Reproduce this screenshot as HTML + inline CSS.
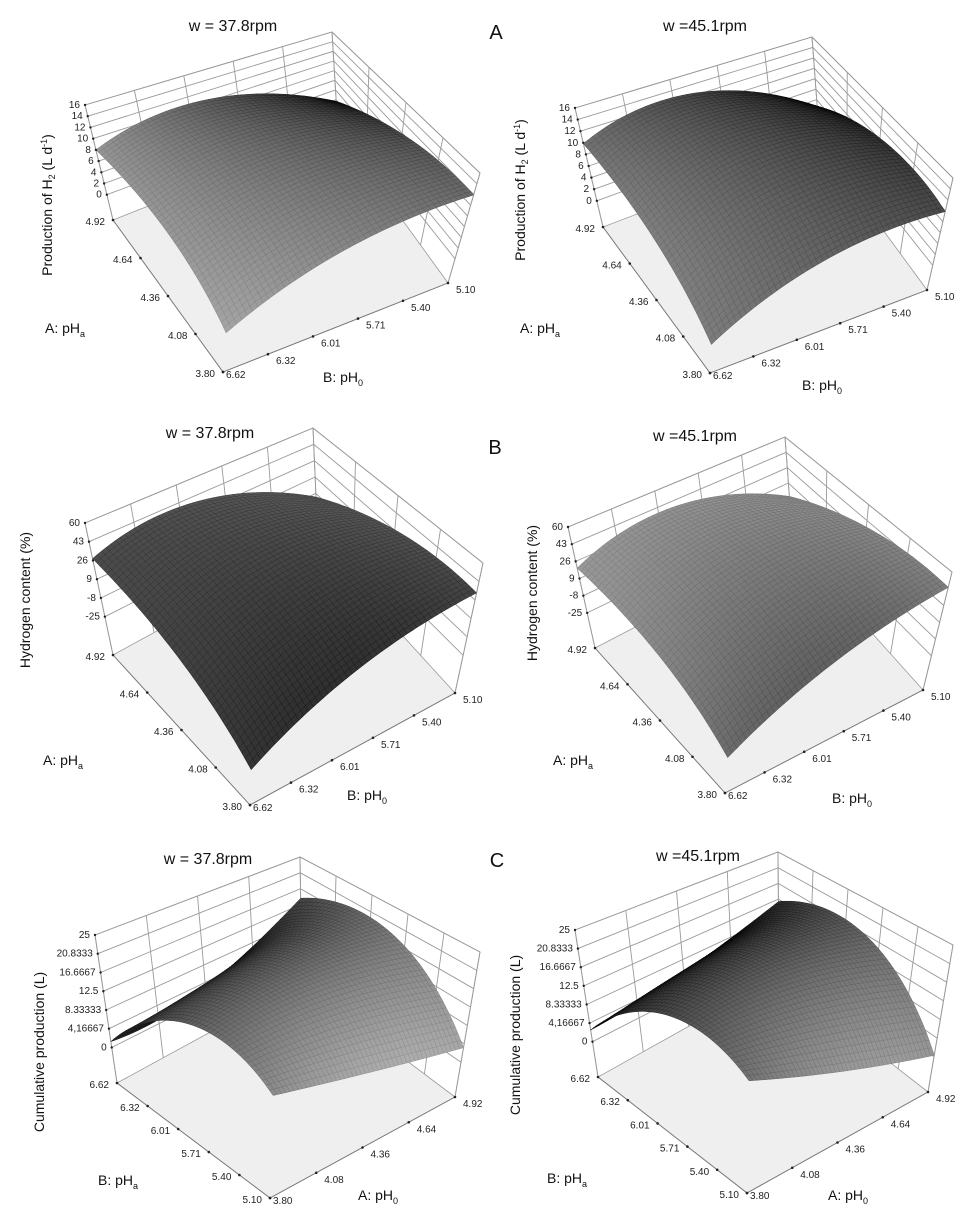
<!DOCTYPE html>
<html><head><meta charset="utf-8">
<style>
body{margin:0;background:#fff;}
svg{display:block;font-family:"Liberation Sans",Arial,sans-serif;}
</style></head>
<body>
<svg id="fig" width="973" height="1222" viewBox="0 0 973 1222" xmlns="http://www.w3.org/2000/svg"></svg>
<script>
// ---- data (surface heights as fraction of box height, 3x3 grid: rows = left-axis low/mid/high, cols = right-axis low/mid/high)
const zGrid1 = [[0.31,0.68,0.80],[0.58,0.80,0.70],[0.61,0.72,0.30]];
const zGrid2 = [[0.23,0.62,0.70],[0.55,0.88,0.72],[0.70,0.82,0.35]];
const zGrid3 = [[0.24,0.60,0.77],[0.55,0.82,0.72],[0.73,0.80,0.40]];
const zGrid4 = [[0.27,0.65,0.87],[0.55,0.86,0.80],[0.66,0.80,0.45]];
const zGrid5 = [[0.61,0.48,0.34],[0.74,0.85,0.81],[0.28,0.33,0.67]];
const zGrid6 = [[0.66,0.45,0.25],[0.76,0.85,0.75],[0.32,0.40,0.60]];
const aTicks = ["3.80","4.08","4.36","4.64","4.92"];
const bTicks = ["6.62","6.32","6.01","5.71","5.40","5.10"];
const zTicksH2 = ["0","2","4","6","8","10","12","14","16"];
const zTicksHC = ["-25","-8","9","26","43","60"];
const zTicksCP = ["0","4,16667","8.33333","12.5","16.6667","20.8333","25"];
const titles = ["w = 37.8rpm","w =45.1rpm","w = 37.8rpm","w =45.1rpm","w = 37.8rpm","w =45.1rpm"];

// ---- layout
const panels = [
 {z:zGrid1, O:[223,372],L:[113,220],R:[448,283],B:[338,131],Ot:[233,246],Lt:[85,105],Rt:[480,173],Bt:[332,32],
  zt:zTicksH2, z0:0.22, lt:aTicks, rt:bTicks, ztitle:"H2", ztx:52, zty:205, title:[233,25], an:["A: pH","a",45,333], bn:["B: pH","0",323,382], base:105,k1:0,k2:60},
 {z:zGrid2, O:[710,373],L:[603,227],R:[927,290],B:[820,144],Ot:[716,249],Lt:[575,108],Rt:[953,178],Bt:[812,37],
  zt:zTicksH2, z0:0.22, lt:aTicks, rt:bTicks, ztitle:"H2", ztx:525, zty:190, title:[705,25], letter:["A",496,32], an:["A: pH","a",520,333], bn:["B: pH","0",802,390], base:80,k1:0,k2:40},
 {z:zGrid3, O:[250,805],L:[113,655],R:[455,693],B:[318,543],Ot:[255,658],Lt:[85,523],Rt:[483,563],Bt:[313,428],
  zt:zTicksHC, z0:0.29, lt:aTicks, rt:bTicks, ztitle:"HC", ztx:30, zty:600, title:[210,432], letter:["B",495,447], an:["A: pH","a",43,765], bn:["B: pH","0",347,800], base:75,k1:-55,k2:20},
 {z:zGrid4, O:[725,793],L:[595,648],R:[923,690],B:[793,545],Ot:[735,662],Lt:[568,527],Rt:[952,572],Bt:[785,437],
  zt:zTicksHC, z0:0.29, lt:aTicks, rt:bTicks, ztitle:"HC", ztx:537, zty:593, title:[695,435], an:["A: pH","a",553,765], bn:["B: pH","0",832,803], base:125,k1:-75,k2:40},
 {z:zGrid5, O:[270,1198],L:[117,1083],R:[455,1097],B:[302,982],Ot:[275,1030],Lt:[95,935],Rt:[480,952],Bt:[300,857],
  zt:zTicksCP, z0:0.24, lt:bTicks.slice().reverse(), rt:aTicks, ztitle:"CP", ztx:44, zty:1052, title:[208,858], an:["B: pH","a",98,1185], bn:["A: pH","0",358,1200], base:105,k1:40,k2:0},
 {z:zGrid6, O:[747,1193],L:[598,1077],R:[928,1092],B:[779,976],Ot:[750,1023],Lt:[575,930],Rt:[953,945],Bt:[778,852],
  zt:zTicksCP, z0:0.24, lt:bTicks.slice().reverse(), rt:aTicks, ztitle:"CP", ztx:520, zty:1035, title:[698,855], letter:["C",497,860], an:["B: pH","a",547,1183], bn:["A: pH","0",828,1200], base:85,k1:40,k2:0}
];
const NS="http://www.w3.org/2000/svg";
const svg=document.getElementById('fig');
function el(tag,attrs,parent){const e=document.createElementNS(NS,tag);for(const k in attrs)e.setAttribute(k,attrs[k]);(parent||svg).appendChild(e);return e;}
function lerp(a,b,u){return [a[0]+(b[0]-a[0])*u,a[1]+(b[1]-a[1])*u];}
function bil(O,L,R,B,s,t){const p=lerp(O,L,s),q=lerp(R,B,s);return lerp(p,q,t);}
function proj(P,s,t,z){const f=bil(P.O,P.L,P.R,P.B,s,t),g=bil(P.Ot,P.Lt,P.Rt,P.Bt,s,t);return lerp(f,g,z);}
function lag(x){return [2*(x-0.5)*(x-1),-4*x*(x-1),2*x*(x-0.5)];}
function zval(G,s,t){const a=lag(s),b=lag(t);let v=0;for(let i=0;i<3;i++)for(let j=0;j<3;j++)v+=a[i]*b[j]*G[i][j];return v;}
function pts(arr){return arr.map(p=>p[0].toFixed(1)+','+p[1].toFixed(1)).join(' ');}

panels.forEach((P,pi)=>{
  const g=el('g',{});
  
  
  const fl=el('polygon',{points:pts([P.O,P.L,P.B,P.R]),fill:'#efefef',stroke:'#999','stroke-width':0.8},g);
  
  
  const wall=el('g',{stroke:'#9a9a9a','stroke-width':0.9,fill:'none'},g);
  
  
  const nz=P.zt.length;
  for(let k=0;k<nz;k++){
    const z=P.z0+(1-P.z0)*k/(nz-1);
    el('polyline',{points:pts([proj(P,1,0,z),proj(P,1,1,z),proj(P,0,1,z)])},wall);
  }
  el('polyline',{points:pts([proj(P,1,0,0),proj(P,1,0,1),proj(P,1,1,1),proj(P,0,1,1),proj(P,0,1,0)])},wall);
  const nr=P.rt.length, nl=P.lt.length;
  for(let k=0;k<nr;k++){const t=k/(nr-1);el('line',{x1:proj(P,1,t,0)[0],y1:proj(P,1,t,0)[1],x2:proj(P,1,t,1)[0],y2:proj(P,1,t,1)[1]},wall);}
  for(let k=0;k<nl;k++){const s=k/(nl-1);el('line',{x1:proj(P,s,1,0)[0],y1:proj(P,s,1,0)[1],x2:proj(P,s,1,1)[0],y2:proj(P,s,1,1)[1]},wall);}
  const N=46, quads=[];
  for(let i=0;i<N;i++)for(let j=0;j<N;j++){
    const s0=i/N,s1=(i+1)/N,t0=j/N,t1=(j+1)/N,sm=(s0+s1)/2,tm=(t0+t1)/2;
    const dzs=(zval(P.z,s1,tm)-zval(P.z,s0,tm))*N, dzt=(zval(P.z,sm,t1)-zval(P.z,sm,t0))*N;
    let c=Math.round(P.base+P.k1*dzs+P.k2*dzt);c=Math.max(15,Math.min(205,c));
    quads.push({d:sm+tm,p:[proj(P,s0,t0,zval(P.z,s0,t0)),proj(P,s1,t0,zval(P.z,s1,t0)),proj(P,s1,t1,zval(P.z,s1,t1)),proj(P,s0,t1,zval(P.z,s0,t1))],c});
  }
  quads.sort((a,b)=>b.d-a.d);
  const sg=el('g',{},g);
  
  
  quads.forEach(q=>{const col='rgb('+q.c+','+q.c+','+q.c+')';const d=Math.max(0,q.c-25);
    el('polygon',{points:pts(q.p),fill:col,stroke:'rgb('+d+','+d+','+d+')','stroke-width':0.5},sg);});
  const ax=el('g',{stroke:'#777','stroke-width':0.9},g);
  el('line',{x1:P.O[0],y1:P.O[1],x2:P.L[0],y2:P.L[1]},ax);
  el('line',{x1:P.O[0],y1:P.O[1],x2:P.R[0],y2:P.R[1]},ax);
  const tx=el('g',{'font-size':10,fill:'#222'},g);
  for(let k=0;k<nz;k++){const z=P.z0+(1-P.z0)*k/(nz-1);const p=proj(P,1,0,z);
    el('circle',{cx:p[0],cy:p[1],r:1.2,fill:'#222'},tx);
    const t=el('text',{x:p[0]-5,y:p[1]+3,'text-anchor':'end'},tx);t.textContent=P.zt[k];
    
    }
  for(let k=0;k<nl;k++){const p=lerp(P.O,P.L,k/(nl-1));
    el('circle',{cx:p[0],cy:p[1],r:1.3,fill:'#222'},tx);
    const t=el('text',{x:p[0]-8,y:p[1]+5,'text-anchor':'end'},tx);t.textContent=P.lt[k];
    
    }
  for(let k=0;k<nr;k++){const p=lerp(P.O,P.R,k/(nr-1));
    el('circle',{cx:p[0],cy:p[1],r:1.3,fill:'#222'},tx);
    const t=el('text',{x:p[0]+(k==0?3:8),y:p[1]+(k==0?6:10),'text-anchor':'start'},tx);t.textContent=P.rt[k];
    
    }
  const tt=el('text',{x:P.title[0],y:P.title[1]+6,'font-size':16,'text-anchor':'middle',fill:'#111'},g);tt.textContent=titles[pi];
  
  
  if(P.letter){const l=el('text',{x:P.letter[1],y:P.letter[2]+7,'font-size':20,'text-anchor':'middle',fill:'#111'},g);l.textContent=P.letter[0];
    
    }
  const zt=el('text',{x:0,y:0,'font-size':14,'text-anchor':'middle',fill:'#111',transform:'translate('+P.ztx+','+P.zty+') rotate(-90)'},g);
  
  
  if(P.ztitle=="H2"){zt.innerHTML='Production of H<tspan font-size="9" dy="3">2</tspan><tspan dy="-3"> (L d</tspan><tspan font-size="9" dy="-5">-1</tspan><tspan dy="5">)</tspan>';}
  else if(P.ztitle=="HC"){zt.textContent='Hydrogen content (%)';}
  else zt.textContent='Cumulative production (L)';
  [P.an,P.bn].forEach((n,ni)=>{const t=el('text',{x:n[2],y:n[3],'font-size':14,fill:'#111'},g);
    t.innerHTML=n[0]+'<tspan font-size="9" dy="4">'+n[1]+'</tspan>';
    
    });
});
</script>
</body></html>
